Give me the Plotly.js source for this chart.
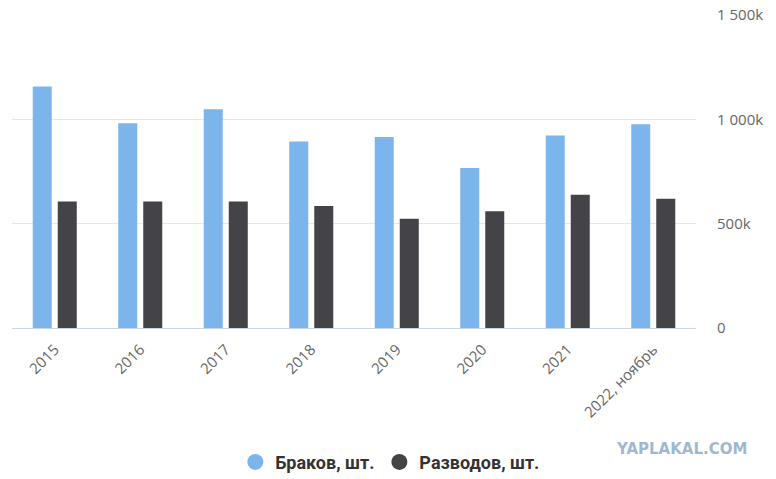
<!DOCTYPE html>
<html>
<head>
<meta charset="utf-8">
<script src="https://cdn.plot.ly/plotly-3.0.1.min.js"></script>
<style>html,body{margin:0;padding:0;background:#fff}#chart{width:776px;height:479px}</style>
</head>
<body>
<div id="chart"></div>
<script>
var categories = ["2015", "2016", "2017", "2018", "2019", "2020", "2021", "2022, ноябрь"];
var marriages = [1157000, 981000, 1048000, 894000, 915000, 767000, 923000, 976000];
var divorces = [606000, 606000, 606000, 585000, 524000, 559000, 638000, 619000];
var seriesNames = ["Браков, шт.", "Разводов, шт."];
var yTickVals = [0, 500000, 1000000, 1500000];
var yTickText = ["0", "500k", "1 000k", "1 500k"];

var colors = ["#7cb5ec", "#434348"];

var traces = [
  {type: "bar", x: categories, y: marriages, name: seriesNames[0], marker: {color: colors[0]}, showlegend: false, hoverinfo: "x+y"},
  {type: "bar", x: categories, y: divorces, name: seriesNames[1], marker: {color: colors[1]}, showlegend: false, hoverinfo: "x+y"},
  {type: "scatter", mode: "markers", x: [null], y: [null], name: seriesNames[0], marker: {color: colors[0], size: 16, symbol: "circle"}},
  {type: "scatter", mode: "markers", x: [null], y: [null], name: seriesNames[1], marker: {color: colors[1], size: 16, symbol: "circle"}}
];

var layout = {
  width: 776, height: 479,
  margin: {l: 12, r: 80, t: 15, b: 151},
  paper_bgcolor: "#fff", plot_bgcolor: "#fff",
  barmode: "group", bargap: 0.415, bargroupgap: 0.24,
  font: {family: "'Open Sans', sans-serif", color: "#666"},
  xaxis: {
    type: "category", tickangle: -45, showgrid: false, zeroline: false,
    showline: true, linecolor: "#ccd6eb", linewidth: 1,
    ticks: "", ticklabelstandoff: 6, tickfont: {size: 15, color: "#666"}, automargin: false
  },
  yaxis: {
    side: "right", range: [0, 1500000], tickvals: yTickVals, ticktext: yTickText,
    showgrid: true, gridcolor: "#e6e6e6", gridwidth: 1, zeroline: false, showline: false,
    ticks: "", ticklabelstandoff: 20, tickfont: {size: 15, color: "#666"}, automargin: false
  },
  showlegend: true,
  legend: {
    orientation: "h", xref: "container", yref: "container",
    x: 0.503, xanchor: "center", y: 0.035, yanchor: "middle",
    font: {family: "Roboto, sans-serif", size: 18, color: "#333", weight: "bold"},
    itemclick: false, itemdoubleclick: false
  },
  annotations: [{
    xref: "paper", yref: "paper", x: 0.979, y: -0.387, xanchor: "center", yanchor: "middle",
    text: "YAPLAKAL.COM", showarrow: false,
    font: {family: "'DejaVu Sans', sans-serif", size: 15, color: "#a0b8cf", weight: "bold"}
  }]
};

Plotly.newPlot("chart", traces, layout, {displayModeBar: false, staticPlot: true});
</script>
</body>
</html>
